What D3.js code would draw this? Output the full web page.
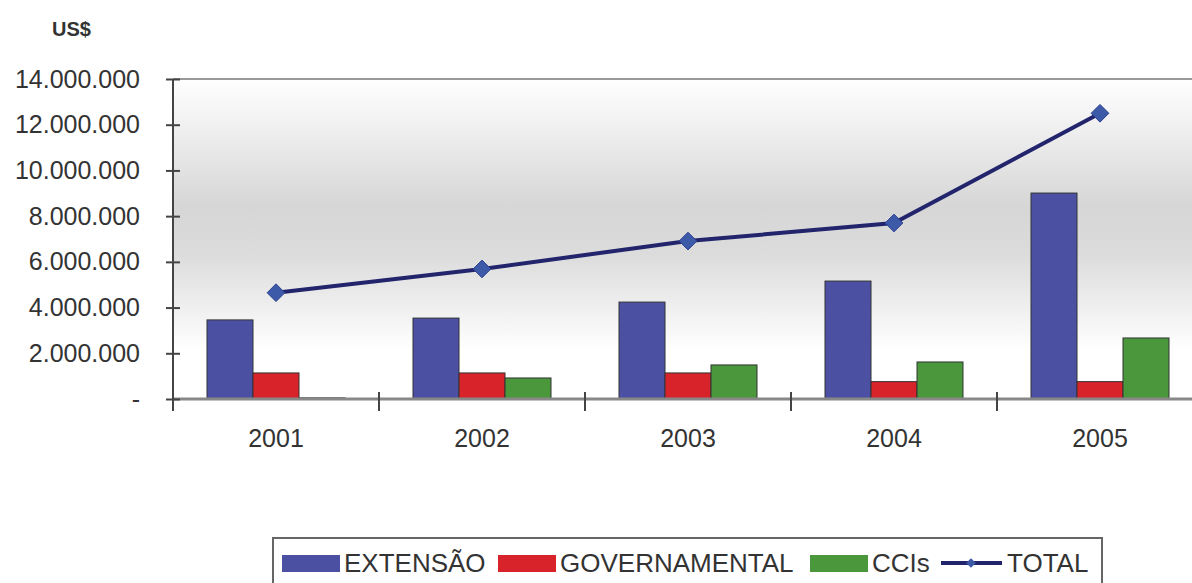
<!DOCTYPE html>
<html>
<head>
<meta charset="utf-8">
<script src="https://cdn.jsdelivr.net/npm/d3@7"></script>
<style>
  body { margin: 0; background: #fff; }
  svg { display: block; font-family: "Liberation Sans", Arial, sans-serif; }
</style>
</head>
<body>
<svg id="chart" width="1192" height="583"></svg>
<script>
const years = ["2001", "2002", "2003", "2004", "2005"];
const seriesNames = ["EXTENSÃO", "GOVERNAMENTAL", "CCIs"];
const extensao = [3460000, 3540000, 4240000, 5160000, 9010000];
const governamental = [1140000, 1140000, 1140000, 760000, 760000];
const ccis = [50000, 920000, 1490000, 1620000, 2670000];
const total = [4650000, 5690000, 6910000, 7700000, 12500000];
const yTicks = [0, 2000000, 4000000, 6000000, 8000000, 10000000, 12000000, 14000000];

const colors = ["#4b50a3", "#d8232b", "#4b973c"];

const svg = d3.select("#chart");
const plotLeft = 173, plotTop = 79, plotBottom = 399, band = 206;

const x = d3.scaleBand().domain(years).range([plotLeft, plotLeft + band * years.length]);
const xs = d3.scaleBand().domain(seriesNames).range([34, 172]);
const y = d3.scaleLinear().domain([0, 14000000]).range([plotBottom, plotTop]);

const loc = d3.formatLocale({ decimal: ",", thousands: ".", grouping: [3], currency: ["", ""] });
const fmt = loc.format(",.0f");

// background gradient
const defs = svg.append("defs");
const grad = defs.append("linearGradient").attr("id", "bg").attr("x1", 0).attr("y1", 0).attr("x2", 0).attr("y2", 1);
grad.append("stop").attr("offset", "0%").attr("stop-color", "#ffffff");
grad.append("stop").attr("offset", "40%").attr("stop-color", "#d6d6d6");
grad.append("stop").attr("offset", "55%").attr("stop-color", "#dcdcdc");
grad.append("stop").attr("offset", "85%").attr("stop-color", "#ffffff");
grad.append("stop").attr("offset", "100%").attr("stop-color", "#ffffff");

svg.append("rect")
  .attr("x", plotLeft).attr("y", plotTop)
  .attr("width", 1192 - plotLeft).attr("height", plotBottom - plotTop)
  .attr("fill", "url(#bg)");

svg.append("line")
  .attr("x1", plotLeft).attr("x2", 1192).attr("y1", plotTop).attr("y2", plotTop)
  .attr("stroke", "#999").attr("stroke-width", 2);

// bars
const rows = years.map((yr, i) => ({ year: yr, vals: [extensao[i], governamental[i], ccis[i]] }));
const g = svg.append("g");
rows.forEach(r => {
  g.selectAll(null)
    .data(r.vals)
    .enter()
    .append("rect")
    .attr("x", (d, j) => x(r.year) + xs(seriesNames[j]))
    .attr("y", d => y(d))
    .attr("width", xs.bandwidth())
    .attr("height", d => plotBottom - y(d))
    .attr("fill", (d, j) => colors[j])
    .attr("stroke", "#333")
    .attr("stroke-width", 1);
});

// x axis
const xAxis = svg.append("g")
  .attr("transform", `translate(0,${plotBottom})`)
  .call(d3.axisBottom(x).tickSize(0).tickPadding(30));
xAxis.select(".domain").attr("stroke", "#888").attr("stroke-width", 3).attr("d", `M${plotLeft},0H1192`);
xAxis.selectAll("text").attr("font-size", 25).attr("fill", "#333");
svg.append("g").selectAll("line")
  .data(years)
  .enter()
  .append("line")
  .attr("x1", d => x(d)).attr("x2", d => x(d))
  .attr("y1", plotBottom - 7).attr("y2", plotBottom + 12)
  .attr("stroke", "#444").attr("stroke-width", 2);

// y axis
const yAxis = svg.append("g")
  .attr("transform", `translate(${plotLeft},0)`)
  .call(d3.axisLeft(y).tickValues(yTicks).tickSize(7).tickPadding(26)
    .tickFormat(d => d === 0 ? "-" : fmt(d)));
yAxis.select(".domain").attr("stroke", "#444").attr("stroke-width", 2).attr("d", `M0,${plotTop}V${plotBottom + 12}`);
yAxis.selectAll(".tick line").attr("x2", 7).attr("x1", -7).attr("stroke", "#444").attr("stroke-width", 2);
yAxis.selectAll("text").attr("font-size", 25).attr("fill", "#333");

svg.append("text")
  .attr("x", 52).attr("y", 36)
  .attr("font-size", 20).attr("font-weight", "bold").attr("fill", "#333")
  .text("US$");

// total line
const cx = d => x(d) + band / 2;
const line = d3.line().x((d, i) => cx(years[i])).y(d => y(d));
svg.append("path")
  .datum(total)
  .attr("d", line)
  .attr("fill", "none")
  .attr("stroke", "#22246c")
  .attr("stroke-width", 4);
svg.append("g").selectAll("path")
  .data(total)
  .enter()
  .append("path")
  .attr("d", d3.symbol(d3.symbolDiamond2, 200))
  .attr("transform", (d, i) => `translate(${cx(years[i])},${y(d)})`)
  .attr("fill", "#3d5aa8")
  .attr("stroke", "#2c3f8f")
  .attr("stroke-width", 1);

// legend
const lg = svg.append("g");
lg.append("rect")
  .attr("x", 273).attr("y", 538).attr("width", 829).attr("height", 70)
  .attr("fill", "#fff").attr("stroke", "#666").attr("stroke-width", 2);

const legendItems = [
  { name: "EXTENSÃO", color: colors[0], x: 282 },
  { name: "GOVERNAMENTAL", color: colors[1], x: 498 },
  { name: "CCIs", color: colors[2], x: 810 }
];
legendItems.forEach(it => {
  lg.append("rect")
    .attr("x", it.x).attr("y", 555).attr("width", 58).attr("height", 17)
    .attr("fill", it.color);
  lg.append("text")
    .attr("x", it.x + 62).attr("y", 572)
    .attr("font-size", 26).attr("fill", "#333")
    .text(it.name);
});
lg.append("line")
  .attr("x1", 941).attr("x2", 1002).attr("y1", 563).attr("y2", 563)
  .attr("stroke", "#22246c").attr("stroke-width", 4);
lg.append("path")
  .attr("d", d3.symbol(d3.symbolDiamond2, 60))
  .attr("transform", "translate(971,563)")
  .attr("fill", "#3d5aa8");
lg.append("text")
  .attr("x", 1007).attr("y", 572)
  .attr("font-size", 26).attr("fill", "#333")
  .text("TOTAL");
</script>
</body>
</html>
